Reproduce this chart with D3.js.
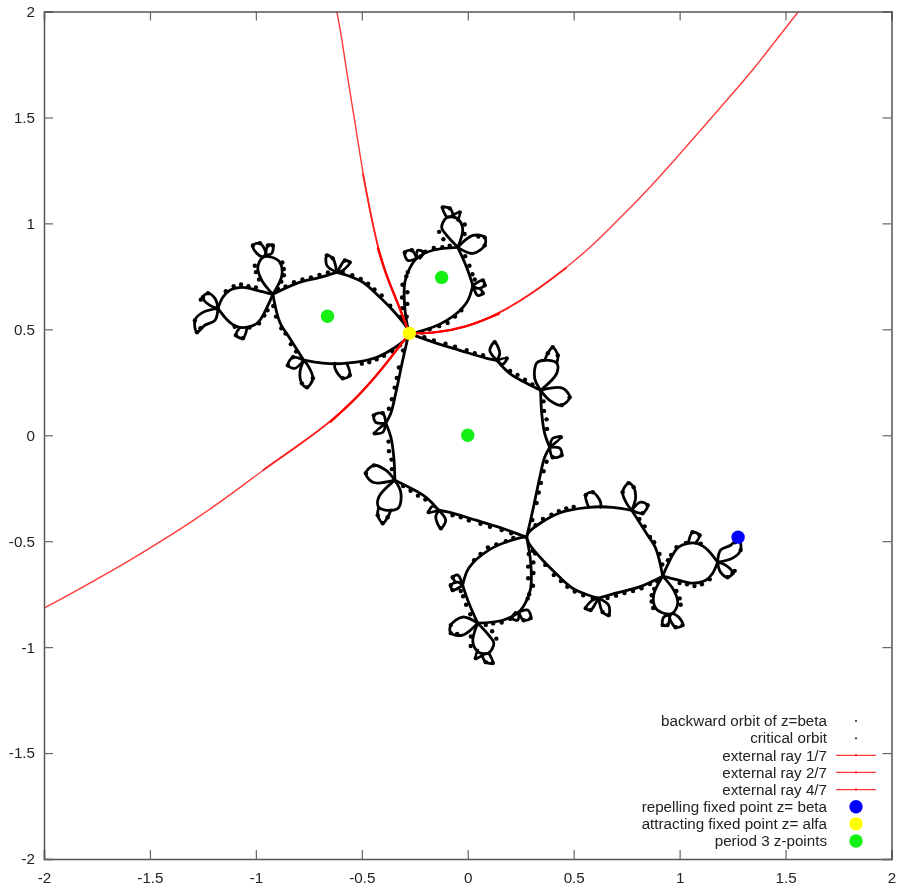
<!DOCTYPE html>
<html>
<head>
<meta charset="utf-8">
<script src="https://cdn.jsdelivr.net/npm/d3@7"></script>
<style>
  html, body { margin: 0; background: #fff; }
  svg { display: block; filter: blur(0.4px); }
  text { font-family: "Liberation Sans", Arial, sans-serif; font-size: 15.2px; fill: #222; }
</style>
</head>
<body>
<div id="chart"></div>
<script>
// all values, in z-plane units
const xTicks = [-2, -1.5, -1, -0.5, 0, 0.5, 1, 1.5, 2];
const yTicks = [-2, -1.5, -1, -0.5, 0, 0.5, 1, 1.5, 2];

const betaPoint = [[1.276, -0.481]];
const alfaPoint = [[-0.276, 0.481]];
const period3 = [[-0.123, 0.745], [-0.662, 0.562], [0, 0]];

const ray17 = [[-.276,.481],[-.165,.481],[-.005,.509],[.151,.575],[.307,.670],[.467,.792],[.585,.892],[.670,.976],[.778,1.085],[.868,1.179],[.967,1.288],[1.094,1.434],[1.250,1.613],[1.344,1.722],[1.439,1.844],[1.561,2]];
const ray27 = [[-.276,.481],[-.335,.637],[-.382,.745],[-.425,.887],[-.462,1.061],[-.495,1.236],[-.524,1.425],[-.547,1.566],[-.580,1.769],[-.594,1.873],[-.618,2]];
const ray47 = [[-.276,.481],[-.401,.316],[-.524,.175],[-.651,.061],[-.778,-.033],[-.967,-.165],[-1.123,-.283],[-1.278,-.392],[-1.439,-.495],[-1.594,-.590],[-1.750,-.679],[-1.910,-.769],[-2,-.816]];

// julia set traced piece by piece: left ear, top ear, middle ring, right ear, bottom ear
const leftEar = [
  [[-.278,.481],[-.288,.509],[-.354,.590],[-.415,.651],[-.495,.722],[-.571,.755],[-.618,.769]],
  [[-.618,.769],[-.698,.745],[-.807,.717],[-.920,.665]],
  [[-.920,.665],[-.887,.533],[-.840,.458],[-.774,.354]],
  [[-.774,.354],[-.684,.340],[-.571,.340],[-.429,.368],[-.288,.458],[-.278,.481]],
  [[-.920,.665],[-.972,.731],[-.991,.792],[-.967,.840],[-.925,.840],[-.887,.816],[-.877,.755],[-.920,.665]],
  [[-.967,.840],[-.995,.858],[-1.014,.896],[-.981,.906],[-.953,.858],[-.967,.840]],
  [[-.953,.858],[-.943,.896],[-.920,.896],[-.925,.858],[-.953,.849]],
  [[-.920,.665],[-.995,.684],[-1.061,.698],[-1.123,.684],[-1.156,.651],[-1.179,.599]],
  [[-1.179,.599],[-1.123,.533],[-1.075,.509],[-.995,.528],[-.943,.613],[-.920,.665]],
  [[-1.075,.509],[-1.094,.472],[-1.061,.458],[-1.042,.505]],
  [[-1.179,.599],[-1.217,.613],[-1.250,.651],[-1.226,.670],[-1.193,.646],[-1.179,.599]],
  [[-1.179,.599],[-1.250,.580],[-1.288,.542],[-1.278,.486],[-1.241,.519],[-1.193,.542],[-1.179,.599]],
  [[-.774,.354],[-.825,.368],[-.849,.330],[-.816,.316],[-.774,.354]],
  [[-.774,.354],[-.792,.297],[-.783,.245],[-.759,.226],[-.731,.269],[-.755,.330],[-.774,.354]],
  [[-.627,.340],[-.627,.316],[-.590,.269],[-.557,.283],[-.571,.340]],
  [[-.618,.769],[-.665,.802],[-.665,.849],[-.637,.835],[-.618,.769]],
  [[-.618,.769],[-.590,.778],[-.557,.816],[-.580,.825],[-.604,.792],[-.618,.769]]
];
const topEar = [
  [[-.278,.481],[-.297,.599],[-.297,.722],[-.274,.788],[-.241,.835],[-.165,.873],[-.047,.887]],
  [[-.047,.887],[-.005,.792],[.024,.708]],
  [[.024,.708],[-.005,.627],[-.099,.542],[-.241,.486],[-.278,.481]],
  [[-.241,.835],[-.264,.873],[-.297,.863],[-.283,.825],[-.241,.835]],
  [[-.241,.835],[-.236,.873],[-.208,.863],[-.226,.835]],
  [[.024,.708],[.071,.731],[.080,.708],[.047,.693],[.024,.708]],
  [[.024,.708],[.047,.660],[.071,.670],[.057,.693]],
  [[-.047,.887],[-.099,.943],[-.123,.981],[-.099,1.028],[-.052,1.024],[-.024,.976],[-.047,.887]],
  [[-.099,1.028],[-.118,1.075],[-.085,1.071],[-.071,1.038],[-.099,1.028]],
  [[-.071,1.038],[-.038,1.052],[-.047,1.014]],
  [[-.047,.887],[.024,.943],[.080,.934],[.080,.896],[.024,.858],[-.047,.887]]
];
const middleRing = [
  [[-.278,.481],[-.146,.434],[-.038,.401],[.090,.363],[.137,.354]],
  [[.137,.354],[.198,.292],[.278,.245],[.344,.212]],
  [[.344,.212],[.349,.104],[.363,.009],[.387,-.057]],
  [[.387,-.057],[.363,-.104],[.340,-.198],[.307,-.354],[.278,-.481]],
  [[.278,-.481],[.146,-.434],[.038,-.401],[-.090,-.363],[-.137,-.354]],
  [[-.137,-.354],[-.198,-.292],[-.278,-.245],[-.344,-.212]],
  [[-.344,-.212],[-.349,-.104],[-.363,-.009],[-.387,.057]],
  [[-.387,.057],[-.363,.104],[-.340,.198],[-.307,.354],[-.278,.481]],
  [[.137,.354],[.104,.401],[.127,.439],[.151,.387],[.137,.354]],
  [[.137,.354],[.184,.363],[.165,.335],[.137,.354]],
  [[-.137,-.354],[-.104,-.401],[-.127,-.439],[-.151,-.387],[-.137,-.354]],
  [[-.137,-.354],[-.184,-.363],[-.165,-.335],[-.137,-.354]],
  [[.344,.212],[.316,.269],[.325,.340],[.363,.354],[.420,.340],[.420,.292],[.344,.212]],
  [[.363,.354],[.378,.387],[.401,.415],[.425,.377],[.420,.340]],
  [[.344,.212],[.387,.165],[.443,.142],[.481,.179],[.448,.222],[.344,.212]],
  [[-.344,-.212],[-.316,-.269],[-.325,-.340],[-.363,-.354],[-.420,-.340],[-.420,-.292],[-.344,-.212]],
  [[-.363,-.354],[-.378,-.387],[-.401,-.415],[-.425,-.377],[-.420,-.340]],
  [[-.344,-.212],[-.387,-.165],[-.443,-.142],[-.481,-.179],[-.448,-.222],[-.344,-.212]],
  [[.387,-.057],[.439,-.009],[.401,-.014],[.387,-.057]],
  [[.387,-.057],[.434,-.061],[.443,-.094],[.401,-.104],[.387,-.057]],
  [[-.387,.057],[-.439,.009],[-.401,.014],[-.387,.057]],
  [[-.387,.057],[-.434,.061],[-.443,.094],[-.401,.104],[-.387,.057]]
];
const rightEar = [
  [[.278,-.481],[.288,-.509],[.354,-.590],[.415,-.651],[.495,-.722],[.571,-.755],[.618,-.769]],
  [[.618,-.769],[.698,-.745],[.807,-.717],[.920,-.665]],
  [[.920,-.665],[.887,-.533],[.840,-.458],[.774,-.354]],
  [[.774,-.354],[.684,-.340],[.571,-.340],[.429,-.368],[.288,-.458],[.278,-.481]],
  [[.920,-.665],[.972,-.731],[.991,-.792],[.967,-.840],[.925,-.840],[.887,-.816],[.877,-.755],[.920,-.665]],
  [[.967,-.840],[.995,-.858],[1.014,-.896],[.981,-.906],[.953,-.858],[.967,-.840]],
  [[.953,-.858],[.943,-.896],[.920,-.896],[.925,-.858],[.953,-.849]],
  [[.920,-.665],[.995,-.684],[1.061,-.698],[1.123,-.684],[1.156,-.651],[1.179,-.599]],
  [[1.179,-.599],[1.123,-.533],[1.075,-.509],[.995,-.528],[.943,-.613],[.920,-.665]],
  [[1.075,-.509],[1.094,-.472],[1.061,-.458],[1.042,-.505]],
  [[1.179,-.599],[1.217,-.613],[1.250,-.651],[1.226,-.670],[1.193,-.646],[1.179,-.599]],
  [[1.179,-.599],[1.250,-.580],[1.288,-.542],[1.278,-.486],[1.241,-.519],[1.193,-.542],[1.179,-.599]],
  [[.774,-.354],[.825,-.368],[.849,-.330],[.816,-.316],[.774,-.354]],
  [[.774,-.354],[.792,-.297],[.783,-.245],[.759,-.226],[.731,-.269],[.755,-.330],[.774,-.354]],
  [[.627,-.340],[.627,-.316],[.590,-.269],[.557,-.283],[.571,-.340]],
  [[.618,-.769],[.665,-.802],[.665,-.849],[.637,-.835],[.618,-.769]],
  [[.618,-.769],[.590,-.778],[.557,-.816],[.580,-.825],[.604,-.792],[.618,-.769]]
];
const bottomEar = [
  [[.278,-.481],[.297,-.599],[.297,-.722],[.274,-.788],[.241,-.835],[.165,-.873],[.047,-.887]],
  [[.047,-.887],[.005,-.792],[-.024,-.708]],
  [[-.024,-.708],[.005,-.627],[.099,-.542],[.241,-.486],[.278,-.481]],
  [[.241,-.835],[.264,-.873],[.297,-.863],[.283,-.825],[.241,-.835]],
  [[.241,-.835],[.236,-.873],[.208,-.863],[.226,-.835]],
  [[-.024,-.708],[-.071,-.731],[-.080,-.708],[-.047,-.693],[-.024,-.708]],
  [[-.024,-.708],[-.047,-.660],[-.071,-.670],[-.057,-.693]],
  [[.047,-.887],[.099,-.943],[.123,-.981],[.099,-1.028],[.052,-1.024],[.024,-.976],[.047,-.887]],
  [[.099,-1.028],[.118,-1.075],[.085,-1.071],[.071,-1.038],[.099,-1.028]],
  [[.071,-1.038],[.038,-1.052],[.047,-1.014]],
  [[.047,-.887],[-.024,-.943],[-.080,-.934],[-.080,-.896],[-.024,-.858],[.047,-.887]]
];

// small knobs sitting on the stems
const knobsUpper = [[-.318,.558],[-.366,.612],[-.406,.660],[-.440,.688],[-.470,.715],[-.505,.738],[-.545,.755],[-.590,.770],[-.660,.768],[-.700,.757],[-.740,.745],[-.780,.735],[-.820,.722],[-.860,.702],[-.895,.690],[-.918,.610],[-.905,.560],[-.880,.505],[-.860,.480],[-.835,.430],[-.810,.395],[-.500,.338],[-.465,.345],[-.430,.358],[-.395,.375],[-.355,.395],[-.320,.425],[-1.000,.697],[-1.035,.703],[-1.070,.712],[-1.105,.703],[-1.142,.680],[-1.100,.512],[-1.030,.508],[-.985,.528],[-.960,.565],[-.945,.590],[-.985,.735],[-1.000,.770],[-1.005,.800],[-.875,.815],[-.868,.785],[-.868,.755],[-.880,.725],[-.306,.545],[-.288,.560],[-.310,.600],[-.285,.620],[-.310,.650],[-.285,.675],[-.308,.710],[-.290,.750],[-.283,.770],[-.200,.866],[-.160,.884],[-.120,.888],[-.085,.895],[-.012,.845],[.008,.800],[.022,.760],[.033,.735],[-.030,.590],[-.060,.560],[-.095,.530],[-.135,.515],[-.180,.500],[-.215,.485],[-.135,.960],[-.115,.925],[-.014,.995],[-.015,.950]];
const knobsRing = [[-.205,.463],[-.160,.447],[-.105,.432],[-.060,.418],[-.005,.402],[.033,.387],[.072,.378],[.200,.303],[.235,.285],[.270,.262],[.305,.240],[.358,.160],[.360,.115],[.372,.075],[.374,.030],[.372,-.125],[.358,-.170],[.345,-.225],[.335,-.270],[.325,-.320],[.305,-.400],[.205,-.463],[.160,-.447],[.105,-.432],[.060,-.418],[.005,-.402],[-.033,-.387],[-.072,-.378],[-.200,-.303],[-.235,-.285],[-.270,-.262],[-.305,-.240],[-.358,-.160],[-.360,-.115],[-.372,-.075],[-.374,-.030],[-.372,.125],[-.358,.170],[-.345,.225],[-.335,.270],[-.325,.320],[-.305,.400]];
const knobsLower = [[.318,-.558],[.366,-.612],[.406,-.660],[.440,-.688],[.470,-.715],[.505,-.738],[.545,-.755],[.590,-.770],[.660,-.768],[.700,-.757],[.740,-.745],[.780,-.735],[.820,-.722],[.860,-.702],[.895,-.690],[.918,-.610],[.905,-.560],[.880,-.505],[.860,-.480],[.835,-.430],[.810,-.395],[.500,-.338],[.465,-.345],[.430,-.358],[.395,-.375],[.355,-.395],[.320,-.425],[1.000,-.697],[1.035,-.703],[1.070,-.712],[1.105,-.703],[1.142,-.680],[1.100,-.512],[1.030,-.508],[.985,-.528],[.960,-.565],[.945,-.590],[.985,-.735],[1.000,-.770],[1.005,-.800],[.875,-.815],[.868,-.785],[.868,-.755],[.880,-.725],[.306,-.545],[.288,-.560],[.310,-.600],[.285,-.620],[.310,-.650],[.285,-.675],[.308,-.710],[.290,-.750],[.283,-.770],[.200,-.866],[.160,-.884],[.120,-.888],[.085,-.895],[.012,-.845],[-.008,-.800],[-.022,-.760],[-.033,-.735],[.030,-.590],[.060,-.560],[.095,-.530],[.135,-.515],[.180,-.500],[.215,-.485],[.135,-.960],[.115,-.925],[.014,-.995],[.015,-.950]];
// lumps on the tips of the flowers
const knobsTips = [[-1.014,.896],[-.981,.906],[-.943,.896],[-.920,.896],[-1.250,.651],[-1.226,.670],[-1.288,.542],[-1.278,.486],[-1.262,.505],[-1.260,.640],[-.849,.330],[-.825,.368],[-.783,.245],[-.759,.226],[-.731,.269],[-.590,.269],[-.557,.283],[-.665,.849],[-.637,.835],[-.557,.816],[-.580,.825],[-1.094,.472],[-1.061,.458],[-.297,.863],[-.264,.873],[-.208,.863],[.080,.708],[.071,.731],[.071,.670],[-.118,1.075],[-.085,1.071],[-.038,1.052],[.080,.934],[.080,.896],[.050,.938],[.127,.439],[.184,.363],[.401,.415],[.425,.377],[.378,.387],[.481,.179],[.443,.142],[.439,-.009],[.443,-.094],[.401,-.104],[-.127,-.439],[-.184,-.363],[-.401,-.415],[-.425,-.377],[-.378,-.387],[-.481,-.179],[-.443,-.142],[-.439,.009],[-.443,.094],[-.401,.104],[1.014,-.896],[.981,-.906],[.943,-.896],[.920,-.896],[1.250,-.651],[1.226,-.670],[1.288,-.542],[1.278,-.486],[1.262,-.505],[1.260,-.640],[.849,-.330],[.825,-.368],[.783,-.245],[.759,-.226],[.731,-.269],[.590,-.269],[.557,-.283],[.665,-.849],[.637,-.835],[.557,-.816],[.580,-.825],[1.094,-.472],[1.061,-.458],[.297,-.863],[.264,-.873],[.208,-.863],[-.080,-.708],[-.071,-.731],[-.071,-.670],[.118,-1.075],[.085,-1.071],[.038,-1.052],[-.080,-.934],[-.080,-.896],[-.050,-.938]];

const legendLabels = ["backward orbit of z=beta", "critical orbit", "external ray 1/7", "external ray 2/7", "external ray 4/7", "repelling fixed point z= beta", "attracting fixed point z= alfa", "period 3 z-points"];
const legendKinds = ["dot", "dot", "ray", "ray", "ray", "#0000ff", "#ffff00", "#14f014"];

const width = 897, height = 886;
const x = d3.scaleLinear().domain([-2, 2]).range([44, 891.5]);
const y = d3.scaleLinear().domain([-2, 2]).range([859, 11.5]);
const stem = d3.line().x(d => x(d[0])).y(d => y(d[1])).curve(d3.curveCatmullRom.alpha(0.5));
const rayLine = d3.line().x(d => x(d[0])).y(d => y(d[1])).curve(d3.curveBasis);

const svg = d3.select("#chart").append("svg")
    .attr("width", width)
    .attr("height", height);

// julia set
svg.append("g").selectAll("path")
    .data([...leftEar, ...topEar, ...middleRing, ...rightEar, ...bottomEar])
    .join("path")
    .attr("d", stem)
    .attr("fill", "none")
    .attr("stroke", "#000")
    .attr("stroke-width", 2.8)
    .attr("stroke-linejoin", "round")
    .attr("stroke-linecap", "round");

svg.append("g").selectAll("circle")
    .data([...knobsUpper, ...knobsRing, ...knobsLower, ...knobsTips])
    .join("circle")
    .attr("cx", d => x(d[0]))
    .attr("cy", d => y(d[1]))
    .attr("r", 2.2)
    .attr("fill", "#000");

// rays are thick close to alfa, where the orbit piles up
[ray17, ray27, ray47].forEach(ray => {
  svg.append("path")
      .attr("d", rayLine(ray))
      .attr("fill", "none")
      .attr("stroke", "#ff3a3a")
      .attr("stroke-width", 1.4);
  svg.append("path")
      .attr("d", rayLine(ray.slice(0, 6)))
      .attr("fill", "none")
      .attr("stroke", "#f22")
      .attr("stroke-width", 1.8);
  svg.append("path")
      .attr("d", rayLine(ray.slice(0, 4)))
      .attr("fill", "none")
      .attr("stroke", "#f00")
      .attr("stroke-width", 2.4);
});

// big points
const bigPoints = [
  { pts: betaPoint, color: "#0000ff" },
  { pts: alfaPoint, color: "#ffff00" },
  { pts: period3, color: "#14f014" }
];
bigPoints.forEach(set => {
  svg.append("g").selectAll("circle")
      .data(set.pts)
      .join("circle")
      .attr("cx", d => x(d[0]))
      .attr("cy", d => y(d[1]))
      .attr("r", 6.7)
      .attr("fill", set.color);
});

// frame and ticks, gnuplot style: mirrored and pointing in
const fmt = d => String(d);
const gBottom = svg.append("g").attr("transform", `translate(0,${y(-2)})`)
    .call(d3.axisBottom(x).tickValues(xTicks).tickFormat(fmt).tickSize(-9).tickPadding(13));
const gLeft = svg.append("g").attr("transform", `translate(${x(-2)},0)`)
    .call(d3.axisLeft(y).tickValues(yTicks).tickFormat(fmt).tickSize(-9).tickPadding(9));
const gTop = svg.append("g").attr("transform", `translate(0,${y(2)})`)
    .call(d3.axisTop(x).tickValues(xTicks).tickFormat("").tickSize(-9));
const gRight = svg.append("g").attr("transform", `translate(${x(2)},0)`)
    .call(d3.axisRight(y).tickValues(yTicks).tickFormat("").tickSize(-9));

[gBottom, gLeft, gTop, gRight].forEach(g => {
  g.attr("font-family", null).attr("font-size", null);
  g.selectAll(".domain").attr("stroke", "#555").attr("stroke-width", 1.5);
  g.selectAll(".tick line").attr("stroke", "#666").attr("stroke-width", 1.2);
});

// legend
const legendY = d3.scalePoint().domain(legendLabels).range([721, 841]);
const legend = svg.append("g").selectAll("g")
    .data(legendLabels)
    .join("g")
    .attr("transform", d => `translate(827,${legendY(d)})`);

legend.append("text")
    .attr("text-anchor", "end")
    .attr("dy", "0.35em")
    .text(d => d);

legend.each(function(d, i) {
  const g = d3.select(this);
  const kind = legendKinds[i];
  if (kind === "ray") {
    g.append("line").attr("x1", 9).attr("x2", 49)
        .attr("stroke", "#ff3a3a").attr("stroke-width", 1.3);
    g.append("circle").attr("cx", 29).attr("r", 1).attr("fill", "#f00");
  } else if (kind === "dot") {
    g.append("circle").attr("cx", 29).attr("r", 1).attr("fill", "#222");
  } else {
    g.append("circle").attr("cx", 29).attr("r", 6.7).attr("fill", kind);
  }
});
</script>
</body>
</html>
